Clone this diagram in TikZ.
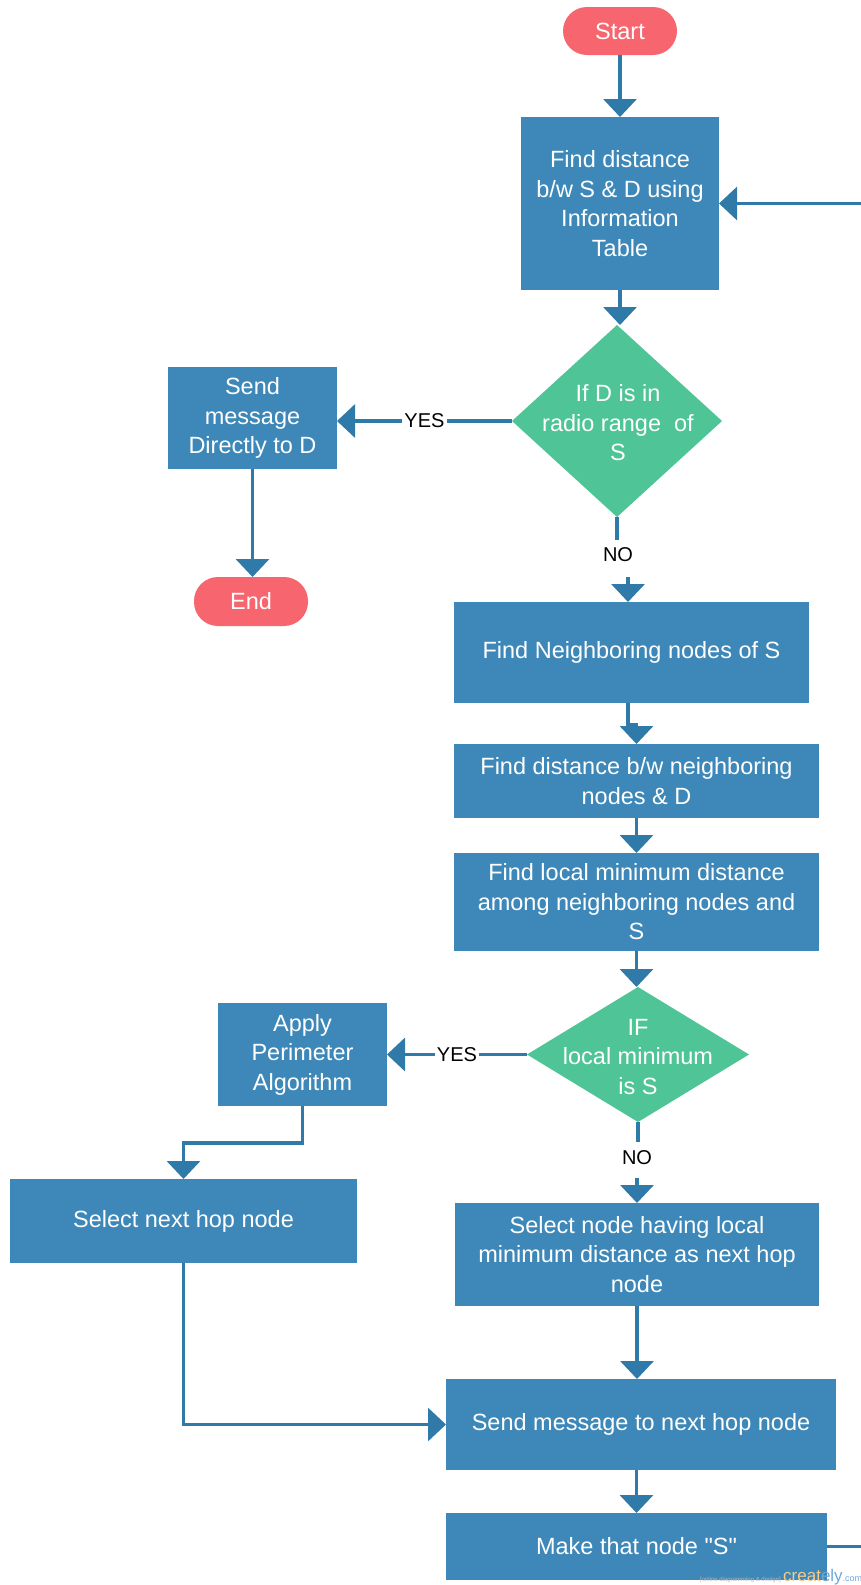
\documentclass[tikz,border=0pt]{standalone}
\usepackage{fontspec}
\setmainfont[Ligatures=TeXOff]{Liberation Sans}
\usetikzlibrary{arrows.meta}
\definecolor{boxblue}{HTML}{3D88B8}
\definecolor{linkblue}{HTML}{2F7AA8}
\definecolor{dgreen}{HTML}{4FC497}
\definecolor{pillred}{HTML}{F7666F}
\definecolor{wmorange}{HTML}{F0B45A}
\definecolor{wmblue}{HTML}{6FA8D8}
\begin{document}
\begin{tikzpicture}[x=1pt,y=-1pt,
  txt/.style={font=\fontsize{23.5}{29.5}\selectfont},
  proc/.style={txt, fill=boxblue, text=white, inner sep=0pt, outer sep=0pt, align=center},
  term/.style={txt, fill=pillred, text=white, rounded corners=24pt, inner sep=0pt, outer sep=0pt},
  decbox/.style={inner sep=0pt, outer sep=0pt},
  dectext/.style={txt, text=white, align=center, inner sep=0pt},
  link/.style={draw=linkblue, line width=3.5pt, -{Triangle[width=33pt,length=18pt]}},
  plain/.style={draw=linkblue, line width=3.5pt},
  lbl/.style={font=\fontsize{20}{22}\selectfont, text=black, fill=white, inner xsep=2pt, inner ysep=3pt}]
\useasboundingbox (0,0) rectangle (861,1585);

% nodes
\node[term, minimum width=114pt, minimum height=48pt] (start) at (620,31) {Start};
\node[proc, minimum width=198pt, minimum height=173pt] (find) at (620,203.5) {Find distance\\b/w S \& D using\\Information\\Table};

\node[decbox, minimum width=210pt, minimum height=192pt] (d1) at (617,421) {};
\fill[dgreen] (d1.north) -- (d1.east) -- (d1.south) -- (d1.west) -- cycle;
\node[dectext] (d1t) at (618,423) {If D is in\\radio range\ \ of\\S};

\node[proc, minimum width=169pt, minimum height=102pt] (direct) at (252.5,418) {Send\\message\\Directly to D};
\node[term, minimum width=114pt, minimum height=49pt] (end) at (251,601.5) {End};

\node[proc, minimum width=355pt, minimum height=101pt] (neigh) at (631.5,652.5) {Find Neighboring nodes of S};
\node[proc, minimum width=365pt, minimum height=74pt] (dist) at (636.5,781) {Find distance b/w neighboring\\nodes \& D};
\node[proc, minimum width=365pt, minimum height=98pt] (localmin) at (636.5,902) {Find local minimum distance\\among neighboring nodes and\\S};

\node[decbox, minimum width=222pt, minimum height=135pt] (d2) at (638,1054.5) {};
\fill[dgreen] (d2.north) -- (d2.east) -- (d2.south) -- (d2.west) -- cycle;
\node[dectext] (d2t) at (638,1057) {IF\\local minimum\\is S};

\node[proc, minimum width=169pt, minimum height=103pt] (perim) at (302.5,1054.5) {Apply\\Perimeter\\Algorithm};
\node[proc, minimum width=347pt, minimum height=84pt] (selnext) at (183.5,1221) {Select next hop node};
\node[proc, minimum width=364pt, minimum height=103pt] (selmin) at (637,1254.5) {Select node having local\\minimum distance as next hop\\node};
\node[proc, minimum width=390pt, minimum height=91pt] (send) at (641,1424.5) {Send message to next hop node};
\node[proc, minimum width=381pt, minimum height=67pt] (make) at (636.5,1546.5) {Make that node "S"};

% connectors
\draw[link] (start) -- (find);
\draw[link] (find.south) -- (find.south |- d1.north);
\draw[link] (d1.west) -- node[lbl, pos=0.5] {YES} (d1.west -| direct.east);
\draw[link] (direct.south) -- (direct.south |- end.north);

\coordinate (no1a) at (618,540);
\coordinate (no1b) at (628,577);
\draw[plain] (d1.south) -- (d1.south |- no1a);
\node[lbl, inner sep=0pt] (no1) at (618,555) {NO};
\draw[link] (no1b) -- (no1b |- neigh.north);

\draw[link] ([xshift=-3.5pt]neigh.south) -- ++(0,22) -| (dist.north);
\draw[link] (dist) -- (localmin);
\draw[link] (localmin.south) -- (localmin.south |- d2.north);
\draw[link] (d2.west) -- node[lbl, pos=0.5] {YES} (d2.west -| perim.east);

\coordinate (no2a) at (638,1142);
\coordinate (no2b) at (637,1178);
\draw[plain] (d2.south) -- (d2.south |- no2a);
\node[lbl, inner sep=0pt] (no2) at (637,1158) {NO};
\draw[link] (no2b) -- (no2b |- selmin.north);

\draw[link] (perim.south) -- ++(0,37) -| (selnext.north);
\draw[link, line width=3pt] (selnext.south) |- (send.west);
\draw[link] (selmin.south) -- (selmin.south |- send.north);
\draw[link] (make.north |- send.south) -- (make.north);

\coordinate (rt) at (862.5,1546.5);
\draw[link, line width=3pt] (make.east) -- (rt) |- (find.east);

% watermark
\node[anchor=east, inner sep=0pt, font=\fontsize{6}{7}\selectfont, text=gray!55] (wm1) at (781,1580) {[online diagramming \& design]};
\node[anchor=west, inner sep=0pt, font=\fontsize{17}{18}\selectfont, text=wmorange!70] (wm2) at (783,1577) {creat\textcolor{wmblue}{ely}\textcolor{wmblue}{\fontsize{9}{10}\selectfont .com}};
\end{tikzpicture}
\end{document}
